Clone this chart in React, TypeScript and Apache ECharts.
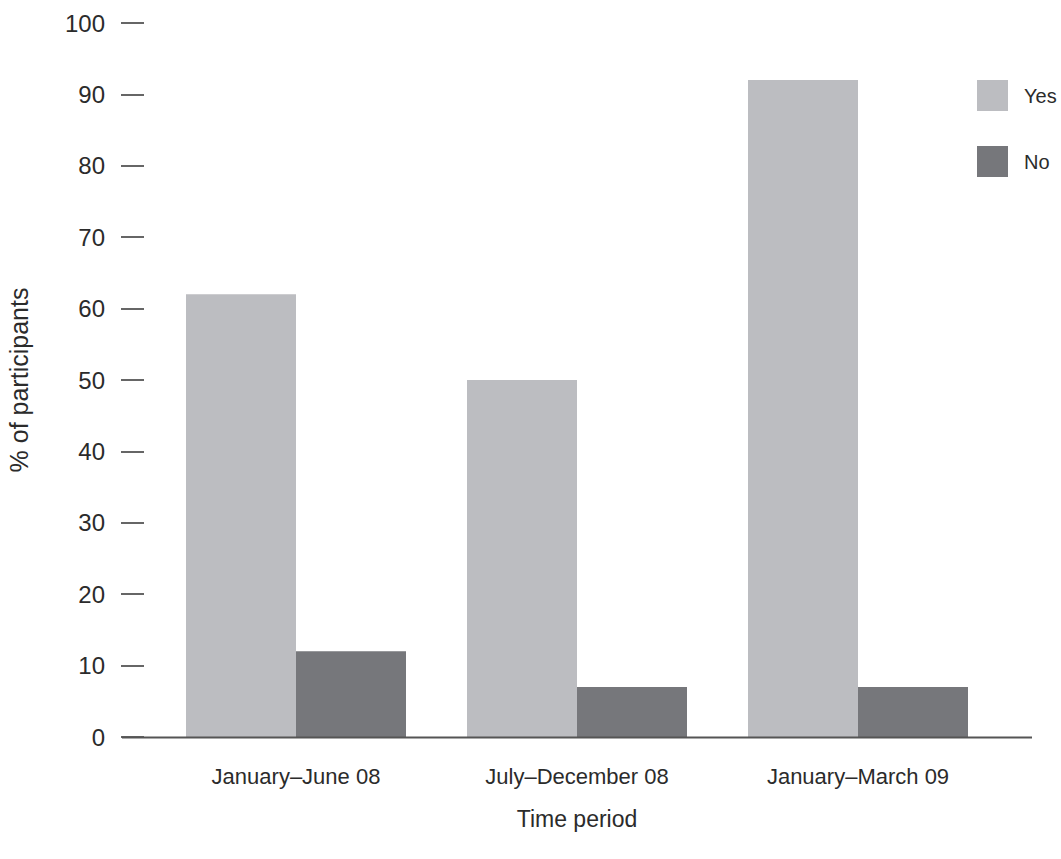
import React, { useEffect, useRef } from "react";
import * as echarts from "echarts";

const categories = ["January–June 08", "July–December 08", "January–March 09"];
const yesValues = [62, 50, 92];
const noValues = [12, 7, 7];
const seriesNames = ["Yes", "No"];
const yAxisTitle = "% of participants";
const xAxisTitle = "Time period";

const FONT = "'Liberation Sans', Arial, sans-serif";
const TEXT = "#2b2b2b";

export default function App() {
  const ref = useRef<HTMLDivElement>(null);
  useEffect(() => {
    if (!ref.current) return;
    const chart = echarts.init(ref.current, undefined, { renderer: "svg" });
    chart.setOption({
      animation: false,
      textStyle: { fontFamily: FONT },
      grid: {
        left: 155.5,
        right: 62.5,
        top: 23,
        bottom: 122,
        containLabel: false,
        outerBoundsMode: "none",
      },
      legend: {
        orient: "vertical",
        left: 972,
        top: 75,
        itemWidth: 31,
        itemHeight: 31,
        itemGap: 35,
        icon: "rect",
        textStyle: { fontSize: 20, color: TEXT, fontFamily: FONT, padding: [0, 0, 0, 11] },
        data: seriesNames,
      },
      xAxis: {
        type: "category",
        data: categories,
        axisLine: { show: false },
        axisTick: { show: false },
        axisLabel: { fontSize: 22, color: TEXT, margin: 28, fontFamily: FONT },
        name: xAxisTitle,
        nameLocation: "middle",
        nameGap: 70,
        nameTextStyle: { fontSize: 23, color: TEXT, fontFamily: FONT },
      },
      yAxis: {
        type: "value",
        min: 0,
        max: 100,
        interval: 10,
        offset: 11.5,
        splitLine: { show: false },
        axisLine: { show: false },
        axisTick: { show: true, length: 23, lineStyle: { color: "#333", width: 1.5 } },
        axisLabel: { fontSize: 24, color: TEXT, margin: 39, fontFamily: FONT },
        name: yAxisTitle,
        nameLocation: "middle",
        nameGap: 113,
        nameTextStyle: { fontSize: 25, color: TEXT, fontFamily: FONT },
      },
      series: [
        {
          name: seriesNames[0],
          type: "bar",
          data: yesValues,
          barWidth: 110,
          barGap: "0%",
          itemStyle: { color: "#bcbdc1" },
        },
        {
          name: seriesNames[1],
          type: "bar",
          data: noValues,
          barWidth: 110,
          barGap: "0%",
          itemStyle: { color: "#76777b" },
        },
      ],
      graphic: [
        {
          type: "line",
          shape: { x1: 122, y1: 737.5, x2: 1032, y2: 737.5 },
          style: { stroke: "#555", lineWidth: 2 },
          z: 10,
        },
      ],
    });
    return () => chart.dispose();
  }, []);
  return (
    <div
      ref={ref}
      style={{ position: "absolute", left: 0, top: 0, width: 1061, height: 859, background: "#fff" }}
    />
  );
}
